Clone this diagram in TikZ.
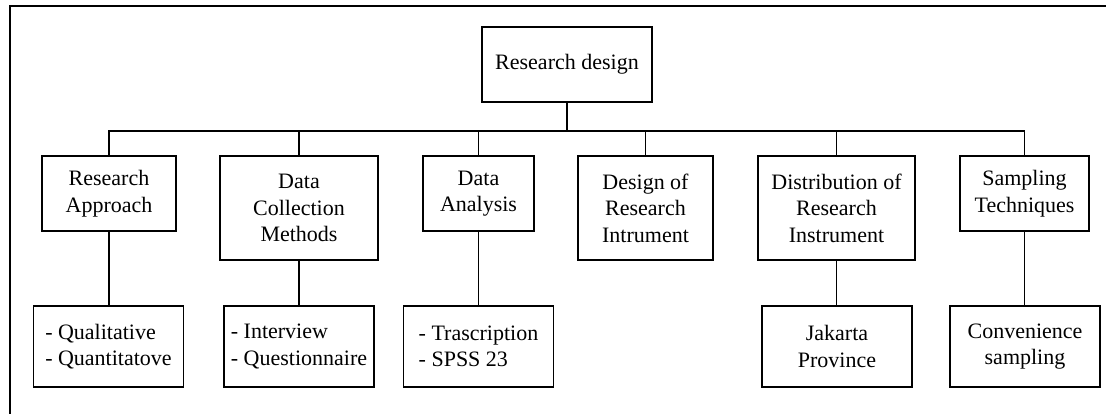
\documentclass[tikz,border=0pt]{standalone}
\usepackage{fontspec}
\setmainfont{LiberationSerif}[Extension=.ttf, UprightFont=*-Regular, BoldFont=*-Bold]
\begin{document}
\begin{tikzpicture}[x=1pt,y=-1pt,
  box/.style={draw, line width=1.8pt, inner sep=0pt, align=center,
    font=\rmfamily\fontsize{22}{26.5}\selectfont},
  leaf/.style={box, minimum width=150pt, minimum height=81pt},
  leafl/.style={leaf, align=left},
  link/.style={line width=1.8pt},
  frame/.style={line width=2.4pt, line cap=rect}]
\useasboundingbox (0,0) rectangle (1106,414);
% partial outer frame
\draw[frame] (10,414) -- (10,6) -- (1106,6);

% root
\node[box, minimum width=170pt, minimum height=75pt] (root) at (567,64.5) {Research design};

% second level
\node[box, minimum width=134pt, minimum height=75pt]  (ra)  at (109,193.5)   {Research\\Approach};
\node[box, minimum width=158pt, minimum height=104pt] (dcm) at (299,208)     {Data\\Collection\\Methods};
\node[box, minimum width=111pt, minimum height=75pt]  (da)  at (478.5,193.5) {Data\\Analysis};
\node[box, minimum width=135pt, minimum height=104pt] (dri) at (645.5,208)   {Design of\\Research\\Intrument};
\node[box, minimum width=157pt, minimum height=104pt] (dis) at (836.5,208)   {Distribution of\\Research\\Instrument};
\node[box, minimum width=129pt, minimum height=75pt]  (st)  at (1024.5,193.5){Sampling\\Techniques};

% third level
\node[leafl] (qq)  at (108.5,346.5) {- Qualitative\\- Quantitatove};
\node[leafl] (iq)  at (299,346.5)   {- Interview\\- Questionnaire};
\node[leafl] (ts)  at (478.5,346.5) {- Trascription\\- SPSS 23};
\node[leaf]  (jp)  at (837,346.5)   {Jakarta\\Province};
\node[leaf]  (cs)  at (1025,346.5)  {Convenience\\sampling};

% root to horizontal bus
\draw[link] (root.south) -- ++(0,28) coordinate (bus);
\draw[link] (ra.north) |- (bus) -| (st.north);
\foreach \n in {dcm,da,dri,dis}
  \draw[link] (\n.north) -- (\n.north |- bus);

% second to third level
\draw[link] (ra.south)  -- (ra.south |- qq.north);
\draw[link] (dcm.south) -- (dcm.south |- iq.north);
\draw[link] (da.south)  -- (da.south |- ts.north);
\draw[link] (dis.south) -- (dis.south |- jp.north);
\draw[link] (st.south)  -- (st.south |- cs.north);
\end{tikzpicture}
\end{document}
